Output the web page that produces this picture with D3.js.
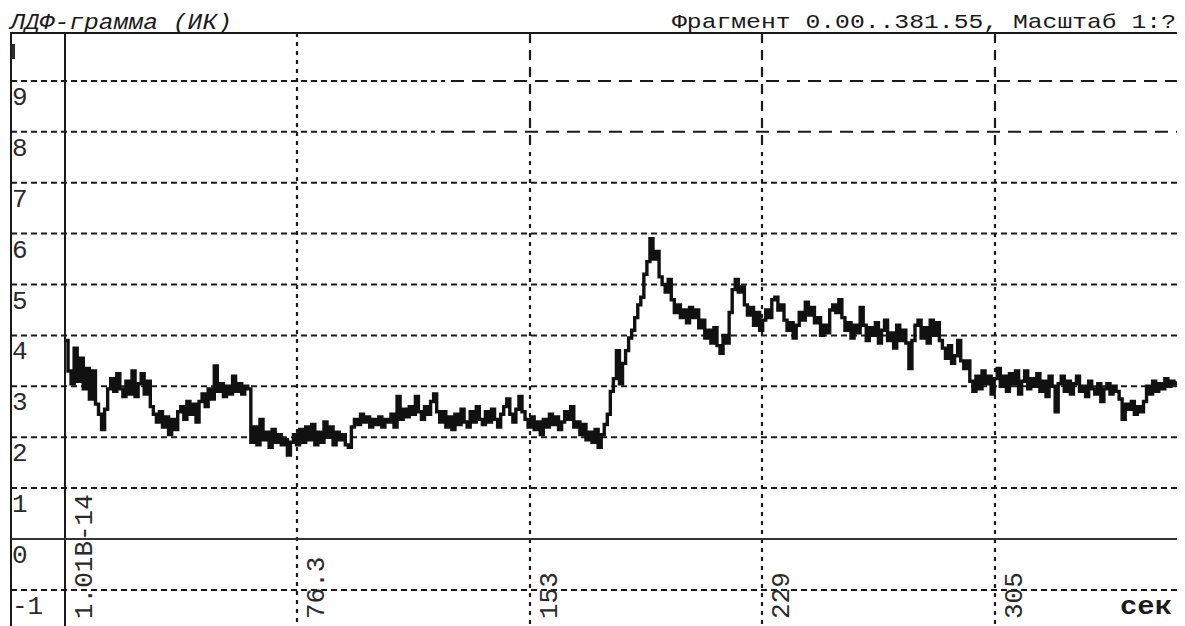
<!DOCTYPE html>
<html><head><meta charset="utf-8">
<script src="https://cdn.jsdelivr.net/npm/d3@7/dist/d3.min.js"></script>
<style>
html,body{margin:0;padding:0;background:#fff;}
svg{display:block;}
</style></head>
<body>
<svg id="chart" width="1185" height="626"></svg>
<script>
// ---- data ----
const chartTitle = "ЛДФ-грамма (ИК)";
const fragmentText = "Фрагмент 0.00..381.55, Масштаб 1:?";
const unitLabel = "сек";
const yTicks = [10, 9, 8, 7, 6, 5, 4, 3, 2, 1, 0, -1];
const yTickLabels = ["10", "9", "8", "7", "6", "5", "4", "3", "2", "1", "0", "-1"];
const xTicks = [0, 76.3, 152.6, 228.9, 305.2];
const xTickLabels = ["1.01B-14", "76.3", "153", "229", "305"];
const timeStep = 1; // seconds between samples
const ldfValues = [
 3.9,3.3,3.05,3.75,3.1,3.55,2.95,3.35,2.75,3.3, 2.65,2.45,2.15,2.55,2.95,3.15,2.9,3.25,2.95,2.8,
 3.1,2.85,3.3,2.8,3.05,3.25,2.85,3.1,2.6,2.45, 2.3,2.5,2.2,2.4,2.05,2.35,2.15,2.5,2.6,2.35,
 2.7,2.45,2.65,2.3,2.7,2.85,2.6,2.95,2.75,3.4, 2.9,3.05,2.8,3.0,2.85,3.2,2.9,3.05,2.85,3.0,
 2.95,1.9,2.2,1.85,2.35,1.95,2.1,1.8,2.15,1.9, 2.05,1.85,1.95,1.65,1.9,2.05,1.85,2.15,1.9,2.2,
 1.95,2.25,1.85,2.1,1.9,2.3,2.0,2.2,1.85,2.1, 1.95,2.05,1.85,1.8,2.2,2.35,2.25,2.45,2.3,2.4,
 2.2,2.35,2.25,2.4,2.2,2.35,2.3,2.45,2.2,2.8, 2.35,2.55,2.4,2.6,2.45,2.8,2.5,2.35,2.6,2.45,
 2.7,2.85,2.5,2.3,2.5,2.2,2.4,2.15,2.45,2.25, 2.55,2.3,2.2,2.5,2.3,2.6,2.35,2.25,2.5,2.3,
 2.55,2.35,2.2,2.45,2.6,2.75,2.45,2.3,2.55,2.8, 2.5,2.35,2.2,2.4,2.15,2.3,2.05,2.35,2.2,2.45,
 2.25,2.4,2.15,2.3,2.5,2.35,2.6,2.2,2.3,2.05, 2.25,1.95,2.1,1.9,2.15,1.8,2.05,2.25,2.45,2.9,
 3.15,3.7,3.05,3.45,3.7,3.95,4.1,4.35,4.6,4.75, 5.2,5.45,5.9,5.5,5.65,5.15,5.0,4.85,5.1,4.7,
 4.45,4.6,4.35,4.5,4.25,4.55,4.35,4.5,4.15,4.3, 3.95,4.1,3.85,4.15,3.8,3.65,4.0,3.85,4.45,4.9,
 5.1,4.85,4.95,4.6,4.4,4.55,4.2,4.45,4.1,4.3, 4.5,4.35,4.7,4.75,4.5,4.6,4.3,4.1,4.25,3.95,
 4.2,4.45,4.3,4.65,4.4,4.55,4.25,4.35,4.0,4.2, 4.05,4.5,4.6,4.45,4.7,4.35,4.1,4.25,3.95,4.2,
 4.05,4.55,4.2,3.9,4.15,4.0,4.25,3.85,4.1,4.3, 3.9,4.05,3.75,4.2,3.9,4.1,3.85,3.35,3.9,4.2,
 4.3,3.95,4.15,3.85,4.3,4.0,4.25,3.9,3.75,3.55, 3.8,3.45,3.6,3.9,3.5,3.35,3.5,3.1,2.9,3.2,
 2.95,3.3,3.05,3.2,2.85,3.15,3.35,3.0,3.2,2.9, 3.25,3.05,3.3,2.85,3.1,3.3,2.95,3.15,3.0,3.25,
 2.9,3.1,2.8,3.2,3.0,2.5,3.05,3.2,2.9,3.1, 2.85,3.05,3.2,2.9,3.0,2.8,3.1,2.95,2.85,3.05,
 2.7,2.95,3.05,2.85,3.0,2.9,2.75,2.35,2.65,2.55, 2.7,2.45,2.6,2.5,2.7,3.0,2.85,3.1,2.9,3.05,
 2.95,3.15,3.0,3.1,3.05,3.1
];

// ---- drawing ----
const svg = d3.select("#chart");
const frameLeft = 11, axisX = 65, plotRight = 1177, frameTop = 33, plotBottom = 626;
const x = d3.scaleLinear().domain([0, 365]).range([axisX, plotRight]);
const y = d3.scaleLinear().domain([-1, 10]).range([589.9, 30]);
const ink = "#1a1a1a";
const mono = "'Liberation Mono', 'DejaVu Sans Mono', monospace";

svg.append("rect").attr("width", 1185).attr("height", 626).attr("fill", "#fff");

const defs = svg.append("defs");
defs.append("clipPath").attr("id", "plotClip").append("rect")
  .attr("x", axisX).attr("y", frameTop).attr("width", plotRight - axisX).attr("height", plotBottom - frameTop);
defs.append("clipPath").attr("id", "tenClip").append("rect")
  .attr("x", frameLeft).attr("y", 42).attr("width", 4).attr("height", 17);

const grid = svg.append("g");
// horizontal grid lines
yTicks.filter(v => v !== 0 && y(v) > frameTop + 2).forEach(v => {
  const yy = y(v);
  if (v >= 8) {
    const split = v === 9 ? 445 : 435;
    grid.append("line").attr("x1", frameLeft).attr("x2", split).attr("y1", yy).attr("y2", yy)
      .attr("stroke", ink).attr("stroke-width", 2).attr("stroke-dasharray", "6,4");
    grid.append("line").attr("x1", split + 6).attr("x2", plotRight).attr("y1", yy).attr("y2", yy)
      .attr("stroke", ink).attr("stroke-width", 2).attr("stroke-dasharray", "13,8");
  } else {
    grid.append("line").attr("x1", frameLeft).attr("x2", plotRight).attr("y1", yy).attr("y2", yy)
      .attr("stroke", ink).attr("stroke-width", 2).attr("stroke-dasharray", "6,4");
  }
});
// vertical grid lines
xTicks.filter(t => t > 0).forEach(t => {
  const xx = Math.round(x(t));
  if (xx > 500) {
    grid.append("line").attr("x1", xx).attr("x2", xx).attr("y1", frameTop).attr("y2", 150)
      .attr("stroke", ink).attr("stroke-width", 2.2).attr("stroke-dasharray", "10,7");
    grid.append("line").attr("x1", xx).attr("x2", xx).attr("y1", 152).attr("y2", plotBottom)
      .attr("stroke", ink).attr("stroke-width", 2.2).attr("stroke-dasharray", "4,5");
  } else {
    grid.append("line").attr("x1", xx).attr("x2", xx).attr("y1", frameTop).attr("y2", plotBottom)
      .attr("stroke", ink).attr("stroke-width", 2.2).attr("stroke-dasharray", "4,5");
  }
});

// solid frame lines
svg.append("line").attr("x1", frameLeft - 1).attr("x2", plotRight).attr("y1", frameTop).attr("y2", frameTop)
  .attr("stroke", ink).attr("stroke-width", 2);
svg.append("line").attr("x1", frameLeft).attr("x2", frameLeft).attr("y1", frameTop).attr("y2", plotBottom)
  .attr("stroke", ink).attr("stroke-width", 2);
svg.append("line").attr("x1", axisX).attr("x2", axisX).attr("y1", frameTop).attr("y2", plotBottom)
  .attr("stroke", ink).attr("stroke-width", 2);
svg.append("line").attr("x1", frameLeft).attr("x2", plotRight).attr("y1", y(0)).attr("y2", y(0))
  .attr("stroke", "#333").attr("stroke-width", 2.2);

// data trace
const line = d3.line()
  .x((d, i) => x(i * timeStep))
  .y(d => y(d))
  .curve(d3.curveStepAfter);
svg.append("path").datum(ldfValues)
  .attr("clip-path", "url(#plotClip)")
  .attr("d", line)
  .attr("fill", "none").attr("stroke", "#111").attr("stroke-width", 3.4)
  .attr("stroke-linejoin", "miter");

// y tick labels
yTicks.forEach((v, i) => {
  const t = svg.append("text")
    .attr("x", v === 10 ? 5 : 12)
    .attr("y", v === 10 ? 61 : y(v) + 24)
    .attr("font-family", mono).attr("font-size", 26).attr("fill", "#2a2a2a")
    .text(yTickLabels[i]);
  if (v === 10) t.attr("clip-path", "url(#tenClip)").attr("font-weight", "bold");
});

// x tick labels (rotated)
xTicks.forEach((t, i) => {
  const xx = x(t) + 27;
  svg.append("text")
    .attr("transform", `translate(${xx},619) rotate(-90)`)
    .attr("font-family", mono).attr("font-size", 26).attr("fill", "#2a2a2a")
    .text(xTickLabels[i]);
});

// header texts
svg.append("text").attr("x", 10).attr("y", 29)
  .attr("font-family", mono).attr("font-style", "italic").attr("font-size", 22).attr("fill", ink)
  .attr("textLength", 222).attr("lengthAdjust", "spacingAndGlyphs")
  .text(chartTitle);
svg.append("text").attr("x", 672).attr("y", 28)
  .attr("font-family", mono).attr("font-size", 21).attr("fill", ink)
  .attr("textLength", 504).attr("lengthAdjust", "spacingAndGlyphs")
  .text(fragmentText);

// unit label
svg.append("text").attr("x", 1120).attr("y", 614)
  .attr("font-family", mono).attr("font-weight", "bold").attr("font-size", 26).attr("fill", ink)
  .attr("textLength", 52).attr("lengthAdjust", "spacingAndGlyphs")
  .text(unitLabel);
</script>
</body></html>
